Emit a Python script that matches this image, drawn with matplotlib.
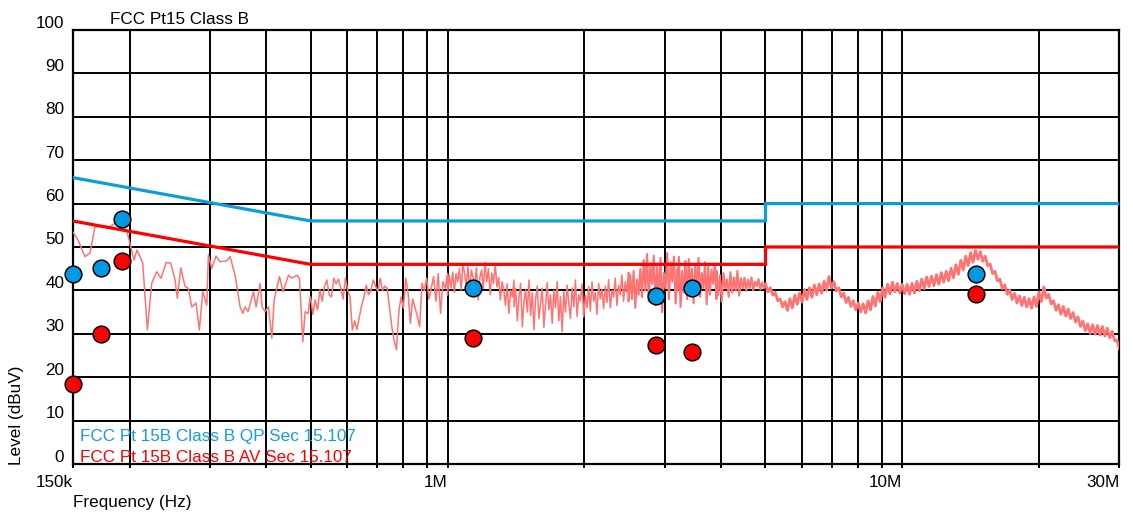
import numpy as np
import matplotlib
matplotlib.use('Agg')
import matplotlib.pyplot as plt
from matplotlib.ticker import FixedLocator, FixedFormatter, NullFormatter
import matplotlib.transforms as mtransforms

plt.rcParams['font.family'] = ['Liberation Sans', 'DejaVu Sans']

# ---------------- data ----------------
title_text = "FCC Pt15 Class B"
qp_label = "FCC Pt 15B Class B QP Sec 15.107"
av_label = "FCC Pt 15B Class B AV Sec 15.107"

# limit lines (Hz, dBuV)
qp_limit_freq = [150e3, 500e3, 5e6, 5e6, 30e6]
qp_limit_level = [66, 56, 56, 60, 60]
av_limit_freq = [150e3, 500e3, 5e6, 5e6, 30e6]
av_limit_level = [56, 46, 46, 50, 50]

# measured peaks
qp_freq = [150e3, 173e3, 193e3, 1.137e6, 2.87e6, 3.45e6, 14.5e6]
qp_level = [43.8, 45.1, 56.4, 40.5, 38.6, 40.6, 43.8]
av_freq = [150e3, 173e3, 193e3, 1.137e6, 2.87e6, 3.45e6, 14.5e6]
av_level = [18.4, 30.0, 46.7, 29.1, 27.5, 25.9, 39.2]

# trace, segment A (explicit kHz points)
seg_a_freq_khz = [150.0, 154.1, 159.6, 163.7, 167.9, 181.2, 185.8, 190.6, 197.5, 204.6,
                  207.7, 213.8, 218.9, 223.8, 229.5, 234.6, 240.6, 246.4, 251.8, 254.7,
                  259.2, 264.9, 269.3, 274.0, 280.0, 284.8, 289.7, 295.7, 298.1, 303.2,
                  309.9, 316.3, 327.2, 332.7, 341.2, 350.0, 354.8, 358.9, 364.4, 374.4,
                  379.5, 387.3, 391.2, 397.2, 403.9, 410.9, 415.8, 427.1, 435.1, 447.0,
                  455.4, 466.4, 472.6, 480.8, 486.4, 493.9, 498.9]
seg_a_level = [53.5, 51.6, 47.8, 48.6, 54.7, 54.7, 55.5, 55.8, 53.5, 47.0,
               49.3, 46.3, 30.9, 41.7, 44.3, 42.8, 46.4, 46.3, 42.4, 38.2,
               45.2, 40.9, 40.5, 36.2, 37.1, 30.9, 39.7, 36.6, 48.2, 45.1,
               47.9, 46.6, 46.8, 47.8, 43.5, 36.2, 34.7, 36.2, 35.1, 39.7,
               36.2, 41.6, 36.2, 35.1, 36.2, 29.0, 37.8, 43.2, 39.7, 43.5,
               42.8, 43.5, 42.8, 28.2, 35.1, 34.7, 38.5]

# trace, swept segments: start Hz, end Hz, levels read along the sweep
seg_b_range = (500e3, 1.0e6)
seg_b_level = [38.5, 34.5, 37.8, 35.5, 40.1, 37.5, 41.0, 42.4, 39.0, 38.5, 42.8, 41.5,
               42.6, 40.5, 38.0, 42.8, 40.0, 38.5, 30.9, 33.0, 31.0, 33.9, 36.5, 38.5,
               41.2, 39.0, 40.0, 42.4, 41.0, 39.7, 42.8, 40.0, 41.0, 40.5, 36.0, 31.6,
               28.5, 26.3, 35.0, 38.5, 35.9, 42.8, 39.5, 32.4, 38.0, 36.0, 34.0, 31.6,
               41.6, 40.0, 42.8, 38.0, 40.5, 43.2, 37.5, 43.9, 34.7, 42.0, 40.5, 43.9]
seg_c1_range = (1.0e6, 1.4e6)
seg_c1_level = [38.9, 43.5, 40.5, 44.2, 39.5, 43.9, 42.0, 45.0, 40.1, 46.2, 43.9, 41.0,
                45.5, 40.1, 44.7, 42.8, 41.6, 45.2, 37.8, 43.0, 44.7, 40.5, 46.5, 42.0,
                45.0, 39.0, 44.0, 41.6, 46.0, 40.8, 43.0, 37.8, 42.0, 40.1, 36.5, 41.5,
                34.7, 40.0, 38.5, 42.4]
seg_c2_range = (1.4e6, 2.5e6)
seg_c2_level = [36.2, 40.5, 33.0, 38.5, 41.6, 31.6, 37.5, 40.1, 35.0, 42.4, 34.2, 39.5,
                30.9, 38.0, 41.0, 33.5, 37.0, 40.5, 31.5, 36.5, 41.8, 35.5, 39.0, 32.4,
                40.0, 36.0, 42.0, 33.0, 38.6, 30.5, 39.8, 35.0, 41.2, 37.0, 33.5, 40.6,
                36.2, 42.4, 34.0, 39.0, 37.5, 41.5, 33.9, 38.8, 36.0, 40.9, 35.2, 42.0,
                37.5, 39.5, 34.5, 41.6, 38.0, 40.2, 35.8, 41.0, 37.2, 42.5, 36.0, 40.0,
                38.5, 42.8, 36.5, 41.2, 39.0, 43.5, 37.5, 42.0, 39.5, 44.0]
seg_c3_range = (2.5e6, 3.2e6)
seg_c3_level = [37.5, 43.5, 38.0, 44.5, 36.0, 42.5, 39.0, 45.0,
                38.5, 47.0, 40.0, 48.4, 37.5, 46.0, 41.5, 48.0, 36.6, 45.5, 39.0, 47.5,
                35.0, 44.0, 40.5, 48.6, 38.0, 46.5, 42.0, 47.8, 37.0, 45.0]
seg_c4_range = (3.2e6, 3.9e6)
seg_c4_level = [40.0, 47.7, 36.2, 44.5, 39.5, 46.8, 38.0, 47.2, 41.0, 45.0, 37.0, 46.0,
                39.8, 47.5, 38.5, 44.0, 40.5, 46.5, 36.8, 45.5, 39.0, 44.8, 41.5, 46.2,
                38.0]
seg_c5_range = (3.9e6, 5.0e6)
seg_c5_level = [44.5, 39.0, 43.5, 37.4, 44.0, 40.5, 42.5, 38.5, 44.2, 39.5, 43.0, 40.0,
                44.5, 38.8, 42.8, 40.5, 42.9, 39.9, 42.5, 40.5, 43.0, 40.0, 42.0, 41.0,
                42.6, 40.2, 41.8, 40.5, 41.5]
seg_d_range = (5.0e6, 30e6)
seg_d_level = [41.5, 39.6, 40.6, 38.9, 39.5, 37.6, 38.0, 36.2, 37.4, 35.4, 38.1, 36.0,
               38.9, 36.8, 39.4, 37.3, 40.2, 37.9, 40.6, 38.4, 41.2, 39.0, 41.5, 39.4,
               42.1, 40.0, 43.2, 40.6, 42.0, 39.9, 40.6, 38.5, 39.4, 37.2, 38.4, 36.3,
               37.6, 35.5, 37.1, 35.0, 36.9, 34.8, 37.6, 35.5, 38.6, 36.4, 39.6, 37.4,
               40.6, 38.4, 41.4, 39.2, 41.9, 39.7, 41.6, 39.4, 41.4, 39.2, 41.4, 39.1,
               41.6, 39.4, 42.1, 39.9, 42.6, 40.4, 43.1, 40.9, 43.3, 41.1, 43.6, 41.4,
               44.1, 41.9, 44.4, 42.2, 45.1, 42.9, 45.9, 43.7, 46.9, 44.7, 47.9, 45.7,
               48.7, 46.5, 49.2, 47.2, 48.9, 46.7, 47.9, 45.7, 46.1, 43.9, 44.4, 42.2,
               42.6, 40.4, 41.3, 39.1, 40.1, 37.9, 39.3, 37.1, 38.7, 36.5, 38.4, 36.2,
               38.1, 35.9, 38.5, 36.3, 39.6, 37.4, 40.8, 38.2, 39.1, 36.9, 37.6, 35.4,
               36.7, 34.5, 36.3, 34.1, 35.7, 33.5, 34.9, 32.7, 33.9, 31.7, 32.9, 30.7,
               32.3, 30.1, 32.1, 29.9, 31.9, 29.7, 31.7, 29.5, 31.3, 29.1, 30.6, 28.4,
               28.5, 26.5]

ytick_values = list(range(0, 101, 10))
ytick_labels = [str(v) for v in ytick_values]
xtick_values = [150e3, 1e6, 10e6, 30e6]
xtick_labels = ["150k", "1M", "10M", "30M"]

# ---------------- build trace ----------------
def sweep(rng, lv):
    return np.geomspace(rng[0], rng[1], len(lv)), np.array(lv)

low_parts = [(np.array(seg_a_freq_khz) * 1e3, np.array(seg_a_level)),
             sweep(seg_b_range, seg_b_level), sweep(seg_c1_range, seg_c1_level),
             sweep(seg_c2_range, seg_c2_level)]
mid_parts = [sweep(seg_c2_range, seg_c2_level)[0][-1:], ]
dense_parts = [sweep(seg_c3_range, seg_c3_level), sweep(seg_c4_range, seg_c4_level),
               sweep(seg_c5_range, seg_c5_level)]
band_part = sweep(seg_d_range, seg_d_level)

low_f = np.concatenate([p[0] for p in low_parts])
low_l = np.concatenate([p[1] for p in low_parts])
den_f = np.concatenate([low_f[-1:]] + [p[0] for p in dense_parts])
den_l = np.concatenate([low_l[-1:]] + [p[1] for p in dense_parts])
band_f = np.concatenate([den_f[-1:], band_part[0]])
band_l = np.concatenate([den_l[-1:], band_part[1]])

# ---------------- figure ----------------
W, H = 1133, 518
fig = plt.figure(figsize=(W / 100, H / 100), dpi=100)
x0, x1, yt, yb = 72.7, 1119.5, 30, 464
ax = fig.add_axes([x0 / W, 1 - yb / H, (x1 - x0) / W, (yb - yt) / H])

ax.set_xscale('log')
ax.set_xlim(150e3, 30e6)
ax.set_ylim(0, 100)

blue = '#0d9ddb'
red = '#ff0000'
trace_col = '#ff7373'

ax.plot(low_f, low_l, color=trace_col, lw=1.1, zorder=3)
ax.plot(den_f, den_l, color=trace_col, lw=1.5, zorder=3)
ax.plot(band_f, band_l, color=trace_col, lw=2.0, zorder=3)
ax.plot(qp_limit_freq, qp_limit_level, color=blue, lw=2.3, zorder=4, solid_joinstyle='miter')
ax.plot(av_limit_freq, av_limit_level, color=red, lw=2.3, zorder=4, solid_joinstyle='miter')
ax.plot(qp_freq, qp_level, 'o', ms=12, mfc='#0099e6', mec='black', mew=1.1, zorder=6, clip_on=False)
ax.plot(av_freq, av_level, 'o', ms=12, mfc='#ff0000', mec='black', mew=1.1, zorder=6, clip_on=False)

# grid & ticks
grid_freqs = [k * 10 ** e for e in (5, 6, 7) for k in range(1, 10) if 150e3 < k * 10 ** e < 30e6]
ax.xaxis.set_major_locator(FixedLocator(xtick_values))
ax.xaxis.set_major_formatter(FixedFormatter(xtick_labels))
ax.xaxis.set_minor_locator(FixedLocator(grid_freqs))
ax.xaxis.set_minor_formatter(NullFormatter())
ax.yaxis.set_major_locator(FixedLocator(ytick_values))
ax.yaxis.set_major_formatter(FixedFormatter(ytick_labels))
ax.grid(True, which='both', color='black', lw=1.4, zorder=1)
ax.set_axisbelow(True)
ax.tick_params(axis='x', which='both', direction='out', length=3, width=1.4, color='black',
               labelsize=12.3, pad=5)
ax.tick_params(axis='y', which='both', length=0, labelsize=12.3, pad=6)
for sp in ax.spines.values():
    sp.set_linewidth(1.6)
    sp.set_color('black')

for lbl in ax.get_xticklabels():
    lbl.set_ha('right')
off = mtransforms.ScaledTranslation(0, 0.085, fig.dpi_scale_trans)
for lbl in ax.get_yticklabels():
    lbl.set_transform(lbl.get_transform() + off)

# texts
fig.text(110 / W, 1 - 20 / H, title_text, fontsize=12.3, ha='left', va='center')
fig.text(17 / W, 1 - 465 / H, "Level (dBuV)", fontsize=12.3, rotation=90, ha='center', va='bottom')
fig.text(73 / W, 1 - 503 / H, "Frequency (Hz)", fontsize=12.3, ha='left', va='center')
ax.text(80 / W, 1 - 436 / H, qp_label, color='#139ee0', fontsize=12.3, ha='left', va='center',
        transform=fig.transFigure, zorder=7)
ax.text(80 / W, 1 - 458 / H, av_label, color=red, fontsize=12.3, ha='left', va='center',
        transform=fig.transFigure, zorder=7)

fig.savefig('out.png', dpi=100)
